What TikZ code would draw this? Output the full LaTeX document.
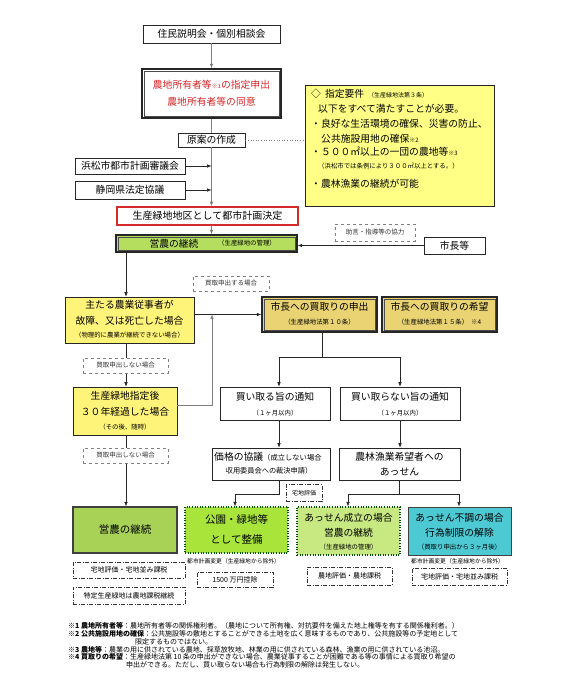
\documentclass[tikz,border=0pt]{standalone}
\usepackage{fontspec}
\setmainfont{Noto Sans CJK JP}
\usetikzlibrary{arrows.meta}
\definecolor{yel}{HTML}{FFFF85}
\definecolor{yel2}{HTML}{FFF47A}
\definecolor{gold}{HTML}{E9D373}
\definecolor{grn1}{HTML}{B5DE5E}
\definecolor{grn4}{HTML}{A8D256}
\definecolor{grn2}{HTML}{A8E43A}
\definecolor{grn3}{HTML}{C8E882}
\definecolor{cyanb}{HTML}{4CC9D3}
\definecolor{redtxt}{HTML}{D8262A}
\definecolor{redbox}{HTML}{D42C2C}
\definecolor{trunkc}{HTML}{808080}
\newcommand\fsz[2]{\fontsize{#1}{#2}\selectfont}
\tikzset{
  box/.style={draw=black!85, line width=0.6pt, fill=white, inner sep=0pt, rectangle},
  dbl/.style={draw=black!85, line width=1.4pt, inner sep=0pt, rectangle,
    path picture={\draw[draw=black!70, line width=0.5pt]
      ([shift={(2.2pt,-2.2pt)}]path picture bounding box.north west) rectangle
      ([shift={(-2.2pt,2.2pt)}]path picture bounding box.south east);}},
  tx/.style={inner sep=0pt, font=\fsz{9.8}{10}},
  big/.style={inner sep=0pt, font=\fsz{10.5}{11}},
  sm/.style={inner sep=0pt, font=\fsz{6.4}{7}},
  arr/.style={-{Latex[length=4.5pt,width=3.6pt]}, line width=0.6pt, draw=black!85},
  ln/.style={line width=0.6pt, draw=black!85},
  trunk/.style={line width=0.9pt, draw=trunkc},
  lbl/.style={draw=gray, dashed, line width=0.5pt, fill=white, inner sep=0pt, font=\fsz{6.5}{7}, text=black!80},
  dd/.style={draw=black!80, dash pattern=on 4pt off 1.5pt on 1pt off 1.5pt, line width=0.6pt, fill=white, inner sep=0pt, font=\fsz{7}{7}},
  fn/.style={inner sep=0pt, anchor=west, font=\fsz{7}{7}}
}
\begin{document}
\begin{tikzpicture}[x=1pt,y=-1pt]
\useasboundingbox[fill=white] (0,0) rectangle (564,694);

% top chain
\node[box, minimum width=137pt, minimum height=18pt, font=\fsz{9.8}{10}] (n1) at (211.5,34) {住民説明会・個別相談会};
\node[dbl, fill=white, minimum width=139pt, minimum height=49pt] (n2) at (211.5,93.5) {};
\node[tx, text=redtxt] (n2a) at (211.5,85) {農地所有者等{\fsz{6}{6}※1}の指定申出};
\node[tx, text=redtxt] (n2b) at (211.5,102) {農地所有者等の同意};
\node[box, minimum width=67pt, minimum height=14pt, font=\fsz{9.8}{10}] (n3) at (211.5,140) {原案の作成};

% requirements box
\node[box, fill=yel, minimum width=189pt, minimum height=121pt] (req) at (399.5,145.5) {};
\node[tx, anchor=west] (r1) at (311,94) {◇\hspace{4pt}指定要件\hspace{4pt}{\fsz{6}{6}（生産緑地法第３条）}};
\node[tx, anchor=west] (r2) at (318,109) {以下をすべて満たすことが必要。};
\node[tx, anchor=west] (r3) at (311,124) {・良好な生活環境の確保、災害の防止、};
\node[tx, anchor=west] (r4) at (321,139) {公共施設用地の確保{\fsz{6}{6}※2}};
\node[tx, anchor=west] (r5) at (311,152) {・５００㎡以上の一団の農地等{\fsz{6}{6}※3}};
\node[sm, anchor=west] (r6) at (318,166) {（浜松市では条例により３００㎡以上とする。）};
\node[tx, anchor=west] (r7) at (311,184) {・農林漁業の継続が可能};
\draw[dotted, draw=gray, line width=0.6pt] (n3.east) -- (n3.east -| req.west);

% side boxes
\node[box, minimum width=110pt, minimum height=16pt, font=\fsz{9.8}{10}] (n5) at (130,166) {浜松市都市計画審議会};
\node[box, minimum width=110pt, minimum height=18pt, font=\fsz{9.8}{10}] (n6) at (130,190) {静岡県法定協議};

\node[box, draw=redbox, line width=1.6pt, minimum width=181pt, minimum height=18pt, font=\fsz{10}{10}] (n7) at (207.5,216) {生産緑地地区として都市計画決定};
\node[dbl, fill=grn1, minimum width=181pt, minimum height=17pt] (n8) at (206.5,243.5) {};
\node[tx] (n8a) at (174,243.5) {営農の継続};
\node[sm] (n8b) at (247,243.5) {（生産緑地の管理）};

% trunk
\draw[trunk, arr, draw=trunkc] (n1.south) -- (n2.north);
\draw[trunk] (n2.south) -- (n3.north);
\draw[trunk, arr, draw=trunkc] (n3.south) -- (n3.south |- n7.north);
\draw[arr] (n5.east) -- (n5.east -| n3.south);
\draw[arr] (n6.east) -- (n6.east -| n3.south);
\draw[trunk, arr, draw=trunkc] (n7.south -| n3.south) -- (n8.north -| n3.south);

% mayor
\node[box, minimum width=61pt, minimum height=17pt, font=\fsz{9.8}{10}] (n9) at (454.5,245.5) {市長等};
\draw[arr] (n9.west) -- (n9.west -| n8.east);
\node[lbl, minimum width=80pt, minimum height=17pt] (l1) at (375,232.5) {助言・指導等の協力};

% left column
\coordinate (v1) at (126,0);
\node[box, fill=yel2, minimum width=129pt, minimum height=46pt] (n10) at (129.5,320) {};
\node[tx] (n10a) at (129.5,305) {主たる農業従事者が};
\node[tx] (n10b) at (129.5,321) {故障、又は死亡した場合};
\node[sm] (n10c) at (129.5,335) {（物理的に農業が継続できない場合）};
\draw[arr] (n8.south -| v1) -- (n10.north -| v1);

\node[lbl, minimum width=76pt, minimum height=15pt] (l2) at (231,283.5) {買取申出する場合};

\node[dbl, fill=gold, minimum width=115pt, minimum height=35pt] (n11) at (319.5,314.5) {};
\node[tx] (n11a) at (319.5,307) {市長への買取りの申出};
\node[sm] (n11b) at (319.5,322) {（生産緑地法第１０条）};
\node[dbl, fill=gold, minimum width=115pt, minimum height=35pt] (n12) at (439.5,314.5) {};
\node[tx] (n12a) at (439.5,307) {市長への買取りの希望};
\node[sm] (n12b) at (439.5,322) {（生産緑地法第１５条）\hspace{3pt}※4};
\draw[arr] (n10.east |- n11.west) -- (n11.west);

\node[box, fill=yel2, minimum width=104pt, minimum height=48pt] (n13) at (125,411) {};
\node[tx] (n13a) at (125,396) {生産緑地指定後};
\node[tx] (n13b) at (125,412) {３０年経過した場合};
\node[sm] (n13c) at (125,427) {（その後、随時）};
\draw[arr] (n10.south -| v1) -- (n13.north -| v1);
\node[lbl, minimum width=85pt, minimum height=15pt] (l3) at (125.5,365.5) {買取申出しない場合};

\coordinate (j1) at (212,314.5);
\draw[trunk, arr, draw=trunkc] ([yshift=6pt]n13.east) -- ([yshift=6pt]n13.east -| j1) -- (j1);

\node[box, fill=grn4, draw=black!75, line width=1.2pt, minimum width=104pt, minimum height=46pt, font=\fsz{10.5}{11}] (n20) at (125,530) {営農の継続};
\draw[arr] (n13.south -| v1) -- (n20.north -| v1);
\node[lbl, minimum width=85pt, minimum height=15pt] (l4) at (125.5,455.5) {買取申出しない場合};

% purchase branch
\coordinate (s1) at (322,357);
\coordinate (sL) at (279,357);
\coordinate (sR) at (400,357);
\node[box, minimum width=110pt, minimum height=33pt] (n14) at (275,403.5) {};
\node[tx] (n14a) at (275,397) {買い取る旨の通知};
\node[sm] (n14b) at (275,413) {（１ヶ月以内）};
\node[box, minimum width=120pt, minimum height=33pt] (n15) at (400,403.5) {};
\node[tx] (n15a) at (400,397) {買い取らない旨の通知};
\node[sm] (n15b) at (400,413) {（１ヶ月以内）};
\draw[ln] (n11.south -| s1) -- (s1);
\draw[ln] (sL) -- (sR);
\draw[arr] (sL) -- (sL |- n14.north);
\draw[arr] (sR) -- (sR |- n15.north);

\node[box, minimum width=118pt, minimum height=32pt] (n16) at (271,464) {};
\node[inner sep=0pt, anchor=west] (n16a) at (214,457) {{\fsz{9.8}{10}価格の協議}{\fsz{7.3}{8}（成立しない場合}};
\node[inner sep=0pt, font=\fsz{7.2}{8}] (n16b) at (269,471) {収用委員会への裁決申請）};
\node[box, minimum width=121pt, minimum height=32pt] (n17) at (399.5,464) {};
\node[tx] (n17a) at (399.5,457) {農林漁業希望者への};
\node[tx] (n17b) at (399.5,472) {あっせん};
\draw[arr] (n14.south -| sL) -- (n16.north -| sL);
\draw[arr] (n15.south -| sR) -- (n17.north -| sR);

% bottom row
\node[box, fill=grn2, draw=green!35!black, dotted, line width=1.2pt, minimum width=103pt, minimum height=46pt] (n21) at (236.5,530) {};
\node[big] (n21a) at (236.5,520) {公園・緑地等};
\node[big] (n21b) at (236.5,540) {として整備};
\node[box, fill=grn3, draw=green!30!black, dotted, line width=1.1pt, minimum width=103pt, minimum height=48pt] (n22) at (348.5,531) {};
\node[tx] (n22a) at (348.5,518) {あっせん成立の場合};
\node[tx] (n22b) at (348.5,533) {営農の継続};
\node[sm] (n22c) at (348.5,547) {（生産緑地の管理）};
\node[box, fill=cyanb, draw=black!75, line width=1pt, minimum width=103pt, minimum height=48pt] (n23) at (459.5,531) {};
\node[tx] (n23a) at (459.5,518) {あっせん不調の場合};
\node[tx] (n23b) at (459.5,533) {行為制限の解除};
\node[sm] (n23c) at (459.5,547) {（買取り申出から３ヶ月後）};

\coordinate (m1) at (279,494);
\coordinate (m2) at (235,494);
\draw[arr] (n16.south -| m1) -- (m1) -- (m2) -- (m2 |- n21.north);
\node[dd, minimum width=36pt, minimum height=17pt, font=\fsz{6}{6}] (l5) at (304,493) {宅地評価};

\coordinate (m3) at (399,494);
\coordinate (m4) at (348,494);
\coordinate (m5) at (459,494);
\draw[ln] (n17.south -| m3) -- (m3);
\draw[ln] (m4) -- (m5);
\draw[arr] (m4) -- (m4 |- n22.north);
\draw[arr] (m5) -- (m5 |- n23.north);

% notes under bottom boxes
\node[dd, minimum width=112pt, minimum height=16pt] (b1) at (129,570) {宅地評価・宅地並み課税};
\node[dd, minimum width=112pt, minimum height=17pt] (b2) at (129,595.5) {特定生産緑地は農地課税継続};
\node[inner sep=0pt, anchor=west, font=\fsz{5.8}{6}] (t1) at (187,561) {都市計画変更（生産緑地から除外）};
\node[dd, minimum width=76pt, minimum height=15pt] (b3) at (235,579.5) {1500 万円控除};
\node[dd, minimum width=85pt, minimum height=18pt] (b4) at (349.5,576) {農地評価・農地課税};
\node[inner sep=0pt, anchor=west, font=\fsz{5.8}{6}] (t2) at (411,561) {都市計画変更（生産緑地から除外）};
\node[dd, minimum width=95pt, minimum height=17pt] (b5) at (459.5,576.5) {宅地評価・宅地並み課税};

% footnotes
\node[fn] (f1) at (68,626) {{\bfseries ※1 農地所有者等}：農地所有者等の関係権利者。（農地について所有権、対抗要件を備えた地上権等を有する関係権利者。）};
\node[fn] (f2) at (68,634) {{\bfseries ※2 公共施設用地の確保}：公共施設等の敷地とすることができる土地を広く意味するものであり、公共施設等の予定地として};
\node[fn] (f2b) at (135,641.5) {限定するものではない。};
\node[fn] (f3) at (68,649.5) {{\bfseries ※3 農地等}：農業の用に供されている農地、採草放牧地、林業の用に供されている森林、漁業の用に供されている池沼。};
\node[fn] (f4) at (68,657) {{\bfseries ※4 買取りの希望}：生産緑地法第 10 条の申出ができない場合、農業従事することが困難である等の事情による買取り希望の};
\node[fn] (f4b) at (126,664.5) {申出ができる。ただし、買い取らない場合も行為制限の解除は発生しない。};
\end{tikzpicture}
\end{document}
